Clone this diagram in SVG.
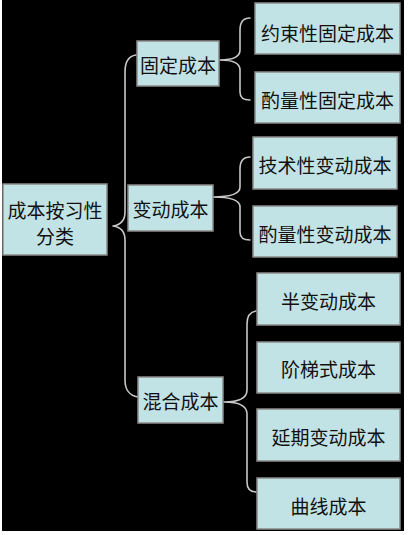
<svg xmlns="http://www.w3.org/2000/svg" width="408" height="535" viewBox="0 0 408 535">
<style>
.box{fill:#c2e3e5;stroke:#8a8a8a;stroke-width:1.5}
.t{font-family:"Noto Sans CJK SC","Noto Sans CJK JP",sans-serif;font-size:19px;fill:#111;text-anchor:middle;dominant-baseline:central}
.br{fill:none;stroke:#c8c8c8;stroke-width:1.6;stroke-linecap:round;stroke-linejoin:round}
</style>
<rect x="0" y="0" width="408" height="535" fill="#ffffff"/>
<rect x="2" y="0" width="402" height="531" fill="#000000"/>
<g id="connectors">
<path class="br" d="M136,55 C129,56 125,62 125,72 L125,212 C125,221 120,225 113,226 C120,227 125,231 125,240 L125,380 C125,390 130,396 138,397"/>
<path class="br" d="M250,18 C243,18 240,22 240,30 L240,50 C240,57 232,60 220,60 C232,60 240,63 240,70 L240,92 C240,98 243,100 250,100"/>
<path class="br" d="M250,157 C243,157 240,161 240,169 L240,187 C240,194 230,197 213,197 C230,197 240,200 240,207 L240,232 C240,238 243,240 250,240"/>
<path class="br" d="M256,311 C250,312 247,316 247,324 L247,390 C247,398 238,402 224,402 C238,402 247,406 247,414 L247,482 C247,489 250,492 256,492"/>
</g>
<g id="root"><rect class="box" x="3" y="184" width="104" height="71"/><text class="t" x="55" y="209">成本按习性</text><text class="t" x="55" y="235">分类</text></g>
<g id="fixed"><rect class="box" x="137" y="41" width="82" height="45"/><text class="t" x="178" y="64">固定成本</text></g>
<g id="variable"><rect class="box" x="128" y="185" width="85" height="46"/><text class="t" x="170.5" y="208">变动成本</text></g>
<g id="mixed"><rect class="box" x="138" y="377" width="85" height="46"/><text class="t" x="180.5" y="400">混合成本</text></g>
<g id="f1"><rect class="box" x="255" y="3" width="145" height="51"/><text class="t" x="327.5" y="32">约束性固定成本</text></g>
<g id="f2"><rect class="box" x="255" y="72" width="145" height="51"/><text class="t" x="327.5" y="99">酌量性固定成本</text></g>
<g id="v1"><rect class="box" x="253" y="137" width="144" height="52"/><text class="t" x="325" y="164">技术性变动成本</text></g>
<g id="v2"><rect class="box" x="253" y="206" width="144" height="51"/><text class="t" x="325" y="233">酌量性变动成本</text></g>
<g id="m1"><rect class="box" x="257" y="273" width="143" height="52"/><text class="t" x="328.5" y="300">半变动成本</text></g>
<g id="m2"><rect class="box" x="257" y="342" width="143" height="51"/><text class="t" x="328.5" y="368">阶梯式成本</text></g>
<g id="m3"><rect class="box" x="257" y="409" width="143" height="52"/><text class="t" x="328.5" y="436">延期变动成本</text></g>
<g id="m4"><rect class="box" x="257" y="478" width="143" height="51"/><text class="t" x="328.5" y="505">曲线成本</text></g>
</svg>
